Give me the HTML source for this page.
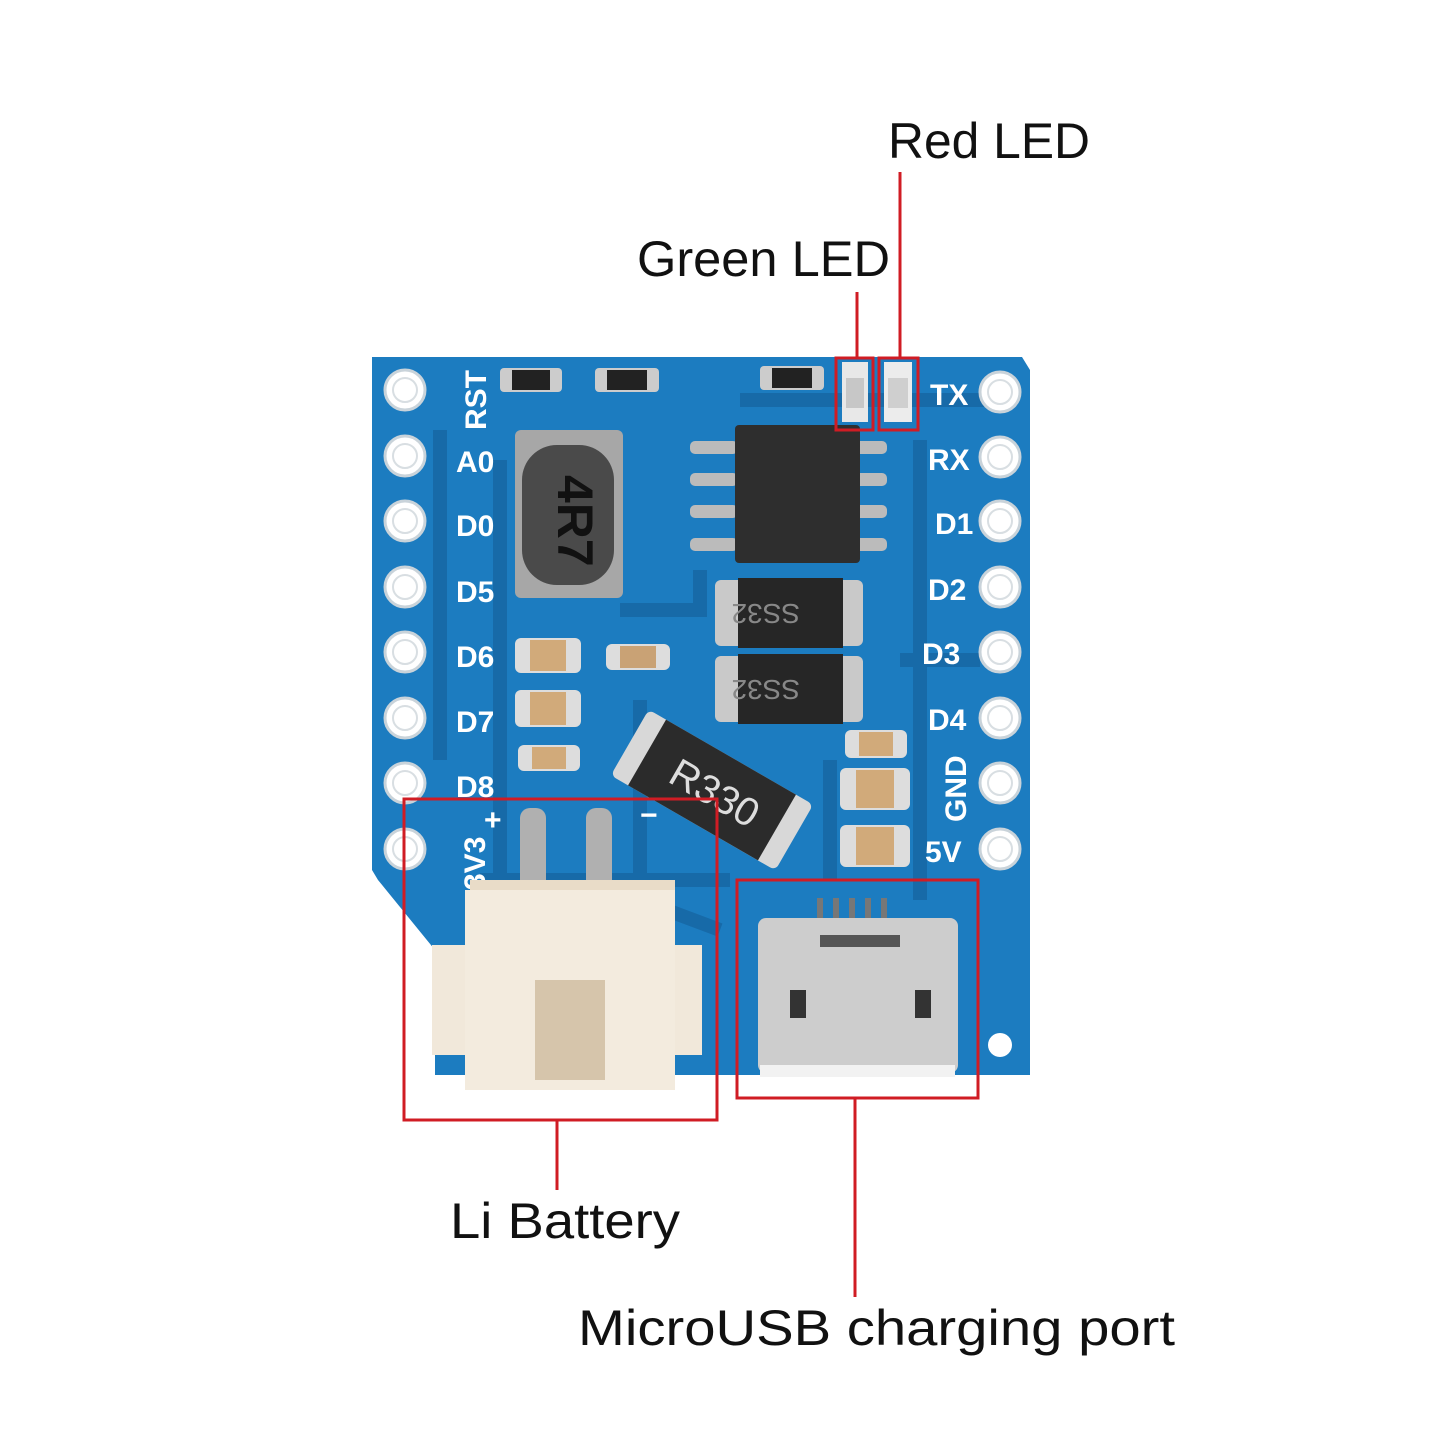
<!DOCTYPE html>
<html><head><meta charset="utf-8"><style>
html,body{margin:0;padding:0;background:#fff}
svg{display:block}
text{font-family:"Liberation Sans",sans-serif}
.lbl{font-size:50px;fill:#111}
.pl{font-size:30px;font-weight:bold;fill:#fff}
</style></head><body>
<svg width="1445" height="1445" viewBox="0 0 1445 1445" xmlns="http://www.w3.org/2000/svg">
<rect width="1445" height="1445" fill="#fff"/>
<path d="M372,357 L1022,357 L1030,370 L1030,1075 L435,1075 L435,950 L378,880 L372,870 Z" fill="#1c7cc0"/>
<g fill="none" stroke="#176aa8" stroke-width="14">
<path d="M440,430 L440,760 M500,460 L500,880 M620,610 L700,610 L700,570 M740,400 L1000,400 M920,440 L920,900 M640,700 L640,900 L720,930 M830,760 L830,880"/>
<path d="M480,880 L730,880 M900,660 L980,660"/>
</g>
<g fill="#fff" stroke="#c9d3da" stroke-width="3">
<circle cx="405" cy="390" r="20"/><circle cx="405" cy="456" r="20"/><circle cx="405" cy="521" r="20"/><circle cx="405" cy="587" r="20"/>
<circle cx="405" cy="652" r="20"/><circle cx="405" cy="718" r="20"/><circle cx="405" cy="783" r="20"/><circle cx="405" cy="849" r="20"/>
<circle cx="1000" cy="392" r="20"/><circle cx="1000" cy="457" r="20"/><circle cx="1000" cy="521" r="20"/><circle cx="1000" cy="587" r="20"/>
<circle cx="1000" cy="652" r="20"/><circle cx="1000" cy="718" r="20"/><circle cx="1000" cy="783" r="20"/><circle cx="1000" cy="849" r="20"/>
</g>
<g fill="none" stroke="#d8dee2" stroke-width="2">
<circle cx="405" cy="390" r="12"/><circle cx="405" cy="456" r="12"/><circle cx="405" cy="521" r="12"/><circle cx="405" cy="587" r="12"/>
<circle cx="405" cy="652" r="12"/><circle cx="405" cy="718" r="12"/><circle cx="405" cy="783" r="12"/><circle cx="405" cy="849" r="12"/>
<circle cx="1000" cy="392" r="12"/><circle cx="1000" cy="457" r="12"/><circle cx="1000" cy="521" r="12"/><circle cx="1000" cy="587" r="12"/>
<circle cx="1000" cy="652" r="12"/><circle cx="1000" cy="718" r="12"/><circle cx="1000" cy="783" r="12"/><circle cx="1000" cy="849" r="12"/>
</g>
<circle cx="1000" cy="1045" r="12" fill="#fff"/>
<text class="pl" transform="translate(486,430) rotate(-90)">RST</text>
<text class="pl" x="456" y="472">A0</text><text class="pl" x="456" y="536">D0</text><text class="pl" x="456" y="602">D5</text>
<text class="pl" x="456" y="667">D6</text><text class="pl" x="456" y="732">D7</text><text class="pl" x="456" y="797">D8</text>
<text class="pl" transform="translate(485,890) rotate(-90)">3V3</text>
<text class="pl" x="484" y="830" font-size="28">+</text><text class="pl" x="640" y="825">−</text>
<text class="pl" x="930" y="405">TX</text><text class="pl" x="928" y="470">RX</text><text class="pl" x="935" y="534">D1</text>
<text class="pl" x="928" y="600">D2</text><text class="pl" x="922" y="664">D3</text><text class="pl" x="928" y="730">D4</text>
<text class="pl" transform="translate(966,822) rotate(-90)">GND</text>
<text class="pl" x="925" y="862">5V</text>
<g><rect x="500" y="368" width="62" height="24" rx="4" fill="#ccc"/><rect x="512" y="370" width="38" height="20" fill="#222"/>
<rect x="595" y="368" width="64" height="24" rx="4" fill="#ccc"/><rect x="607" y="370" width="40" height="20" fill="#222"/>
<rect x="760" y="366" width="64" height="24" rx="4" fill="#ccc"/><rect x="772" y="368" width="40" height="20" fill="#222"/></g>
<rect x="842" y="362" width="26" height="60" fill="#e8e8e8"/><rect x="846" y="378" width="18" height="30" fill="#c7c7c7"/>
<rect x="884" y="362" width="28" height="60" fill="#ececec"/><rect x="888" y="378" width="20" height="30" fill="#cfcfcf"/>
<rect x="515" y="430" width="108" height="168" rx="6" fill="#a7a7a7"/>
<rect x="522" y="445" width="92" height="140" rx="35" fill="#4a4a4a"/>
<text transform="translate(558,475) rotate(90)" font-size="50" font-weight="bold" fill="#111">4R7</text>
<g fill="#bbb"><rect x="690" y="441" width="48" height="13" rx="5"/><rect x="690" y="473" width="48" height="13" rx="5"/><rect x="690" y="505" width="48" height="13" rx="5"/><rect x="690" y="538" width="48" height="13" rx="5"/>
<rect x="855" y="441" width="32" height="13" rx="5"/><rect x="855" y="473" width="32" height="13" rx="5"/><rect x="855" y="505" width="32" height="13" rx="5"/><rect x="855" y="538" width="32" height="13" rx="5"/></g>
<rect x="735" y="425" width="125" height="138" rx="4" fill="#2e2e2e"/>
<rect x="715" y="580" width="148" height="66" rx="6" fill="#c9c9c9"/><rect x="738" y="578" width="105" height="70" fill="#262626"/>
<rect x="715" y="656" width="148" height="66" rx="6" fill="#c9c9c9"/><rect x="738" y="654" width="105" height="70" fill="#262626"/>
<text x="740" y="626" font-size="28" fill="#888" transform="rotate(180 770 615)">SS32</text>
<text x="740" y="702" font-size="28" fill="#888" transform="rotate(180 770 691)">SS32</text>
<g><rect x="515" y="638" width="66" height="35" rx="6" fill="#ddd"/><rect x="530" y="640" width="36" height="31" fill="#d1aa7a"/>
<rect x="515" y="690" width="66" height="37" rx="6" fill="#ddd"/><rect x="530" y="692" width="36" height="33" fill="#d1aa7a"/>
<rect x="518" y="745" width="62" height="26" rx="6" fill="#ddd"/><rect x="532" y="747" width="34" height="22" fill="#d1aa7a"/>
<rect x="606" y="644" width="64" height="26" rx="6" fill="#ddd"/><rect x="620" y="646" width="36" height="22" fill="#c9a275"/>
<rect x="845" y="730" width="62" height="28" rx="6" fill="#ddd"/><rect x="859" y="732" width="34" height="24" fill="#d1aa7a"/>
<rect x="840" y="768" width="70" height="42" rx="6" fill="#ddd"/><rect x="856" y="770" width="38" height="38" fill="#d1aa7a"/>
<rect x="840" y="825" width="70" height="42" rx="6" fill="#ddd"/><rect x="856" y="827" width="38" height="38" fill="#d1aa7a"/></g>
<g transform="rotate(30 712 790)">
<rect x="617" y="752" width="190" height="76" rx="6" fill="#d8d8d8"/><rect x="637" y="752" width="150" height="76" fill="#2b2b2b"/>
<text x="668" y="805" font-size="40" fill="#ddd">R330</text></g>
<rect x="520" y="808" width="26" height="90" rx="10" fill="#b0b0b0"/><rect x="586" y="808" width="26" height="90" rx="10" fill="#b0b0b0"/>
<rect x="470" y="880" width="205" height="90" fill="#e9dcc8"/>
<rect x="432" y="945" width="270" height="110" fill="#f1e8da"/>
<rect x="465" y="890" width="210" height="200" fill="#f3ebde"/>
<rect x="535" y="980" width="70" height="100" fill="#d6c5ab"/>
<g fill="#777"><rect x="817" y="898" width="6" height="22"/><rect x="833" y="898" width="6" height="22"/><rect x="849" y="898" width="6" height="22"/><rect x="865" y="898" width="6" height="22"/><rect x="881" y="898" width="6" height="22"/></g>
<rect x="758" y="918" width="200" height="155" rx="8" fill="#cdcdcd"/>
<rect x="790" y="990" width="16" height="28" fill="#333"/><rect x="915" y="990" width="16" height="28" fill="#333"/>
<rect x="820" y="935" width="80" height="12" fill="#555"/>
<rect x="760" y="1065" width="195" height="12" fill="#f2f2f2"/>
<g fill="none" stroke="#d01c24" stroke-width="3">
<rect x="836" y="358" width="37" height="72"/><rect x="879" y="358" width="39" height="72"/>
<line x1="857" y1="292" x2="857" y2="358"/><line x1="900" y1="172" x2="900" y2="358"/>
<rect x="404" y="799" width="313" height="321"/><line x1="557" y1="1120" x2="557" y2="1190"/>
<rect x="737" y="880" width="241" height="218"/><line x1="855" y1="1098" x2="855" y2="1297"/>
</g>
<text class="lbl" x="888" y="158" textLength="202" lengthAdjust="spacingAndGlyphs">Red LED</text>
<text class="lbl" x="637" y="276" textLength="253" lengthAdjust="spacingAndGlyphs">Green LED</text>
<text class="lbl" x="450" y="1238" textLength="230" lengthAdjust="spacingAndGlyphs">Li Battery</text>
<text class="lbl" x="578" y="1345" textLength="597" lengthAdjust="spacingAndGlyphs">MicroUSB charging port</text>
</svg>
</body></html>
